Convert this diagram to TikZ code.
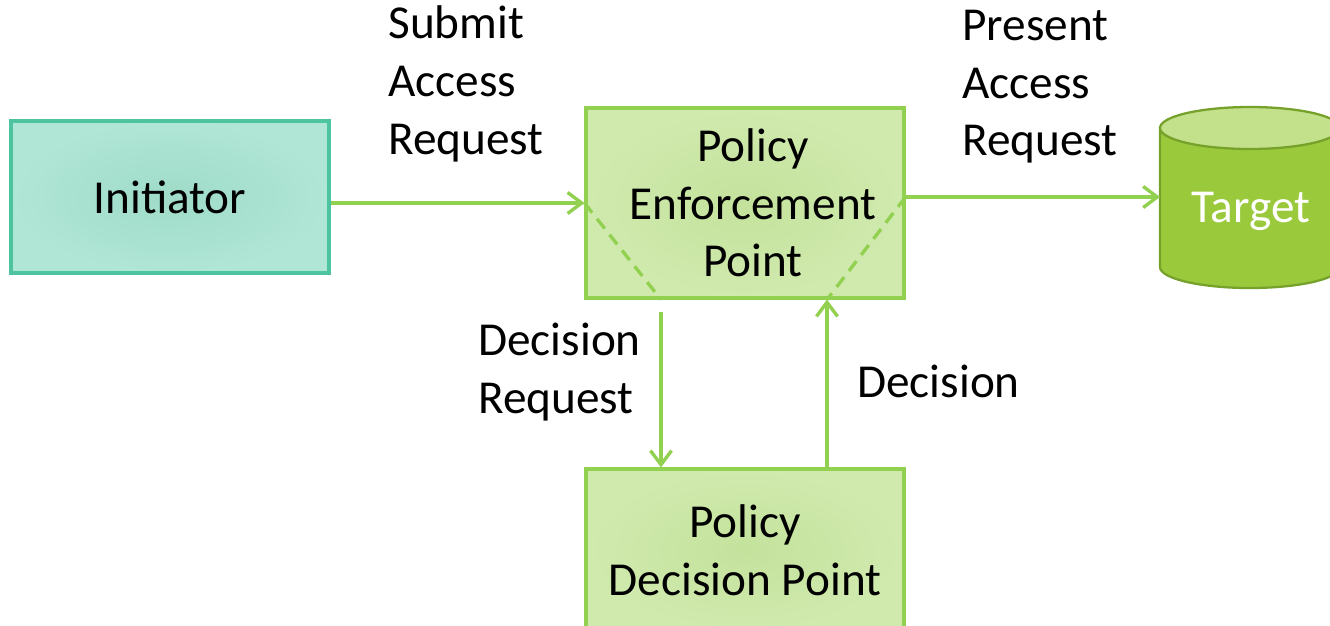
\documentclass[tikz,border=0pt]{standalone}
\usepackage{fontspec}
\setmainfont{Carlito}
\usetikzlibrary{arrows.meta}
\definecolor{lgreen}{HTML}{92D050}
\definecolor{pepfillA}{HTML}{C4E29C}
\definecolor{pepfillB}{HTML}{D0EAAE}
\definecolor{initfillA}{HTML}{9FDBC8}
\definecolor{initfillB}{HTML}{B0E6D6}
\definecolor{initdraw}{HTML}{4DC3A0}
\definecolor{tgtbody}{HTML}{9BC93C}
\definecolor{tgttop}{HTML}{C3E08A}
\definecolor{tgtdraw}{HTML}{76A22B}
\tikzset{
  txt/.style={font=\fontsize{26.9}{32.8}\selectfont, inner sep=0pt},
  greenbox/.style={draw=lgreen, line width=1.8pt, inner color=pepfillA, outer color=pepfillB,
     minimum width=6.36cm, align=center, txt},
  initbox/.style={draw=initdraw, line width=1.8pt, inner color=initfillA, outer color=initfillB,
     minimum width=6.36cm, minimum height=3.04cm, align=center, txt},
  arr/.style={draw=lgreen, line width=1.9pt, -{Straight Barb[length=8pt,width=12pt,line width=1.9pt]}},
  dashline/.style={draw=lgreen, line width=1.9pt, dash pattern=on 7pt off 4.5pt},
  lbl/.style={txt, anchor=west, align=left},
}
\begin{document}
\begin{tikzpicture}[x=0.02cm,y=-0.02cm]
\clip (0,0) rectangle (1330,626);
\fill[white] (0,0) rectangle (1330,626);

\node[initbox] (init) at (170,197) {\raisebox{-0.1cm}{Initiator}};
\node[greenbox, minimum height=3.8cm] (pep) at (745,203)
  {\hspace*{0.32cm}Policy\\\hspace*{0.32cm}Enforcement\\\hspace*{0.32cm}Point};
\node[greenbox, minimum height=3.24cm] (pdp) at (745,550) {Policy\\Decision Point};

% target cylinder
\coordinate (tw) at (1160,197);
\path[fill=tgtbody, draw=tgtdraw, line width=1.3pt]
  (1160,128) -- (1160,267) arc[start angle=180, end angle=360, x radius=90, y radius=-21]
  -- (1340,128) -- cycle;
\path[fill=tgttop, draw=tgtdraw, line width=1.3pt] (1250,128) ellipse [x radius=90, y radius=21];
\node[txt, text=white] (tgt) at (1251,211) {Target};

% connectors
\draw[arr] (pep.west -| init.east) -- (pep.west);
\draw[arr] (pep.east |- tw) -- (tw);
\draw[arr] ([shift={(-84,12)}]pep.south) -- ([xshift=-84*0.02cm]pdp.north);
\draw[arr] ([xshift=82*0.02cm]pdp.north) -- ([xshift=82*0.02cm]pep.south);
\draw[dashline] (pep.west) -- ([xshift=-84*0.02cm]pep.south);
\draw[dashline] (pep.east |- tw) -- ([xshift=82*0.02cm]pep.south);

% labels
\node[lbl] (l1) at (388,84) {Submit\\Access\\Request};
\node[lbl] (l2) at (962,87) {Present\\Access\\Request};
\node[lbl] (l3) at (478,372) {Decision\\Request};
\node[lbl] (l4) at (857,381) {Decision};
\end{tikzpicture}
\end{document}
